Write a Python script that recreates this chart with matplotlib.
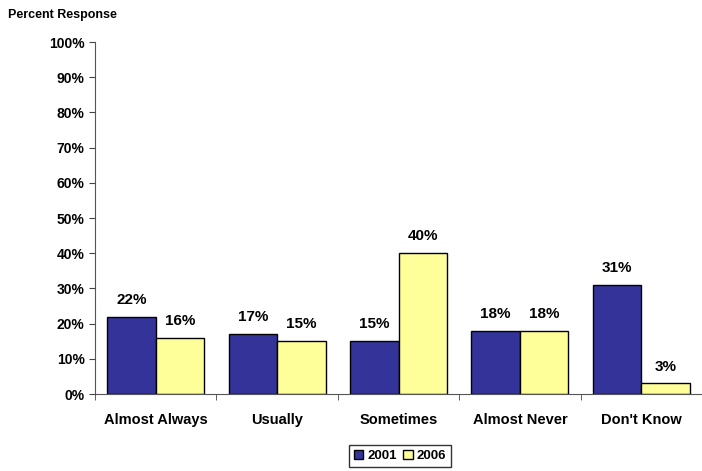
import numpy as np
import matplotlib.pyplot as plt
from matplotlib.ticker import FixedLocator, PercentFormatter

categories = ["Almost Always", "Usually", "Sometimes", "Almost Never", "Don't Know"]
series_names = ["2001", "2006"]
values_2001 = [22, 17, 15, 18, 31]
values_2006 = [16, 15, 40, 18, 3]
colors = ["#333399", "#FFFF99"]

plt.rcParams["font.family"] = ["Liberation Sans", "DejaVu Sans"]
plt.rcParams["font.weight"] = "bold"

fig = plt.figure(figsize=(7.02, 4.71), dpi=100)
ax = fig.add_axes([95 / 702, 1 - 394 / 471, 607 / 702, 352 / 471])

x = np.arange(len(categories))
width = 0.4
for i, (vals, name, color) in enumerate(zip([values_2001, values_2006], series_names, colors)):
    bars = ax.bar(x + (i - 0.5) * width, vals, width, label=name, color=color,
                  edgecolor="black", linewidth=1)
    for bar, v in zip(bars, vals):
        ax.annotate(f"{v}%", (bar.get_x() + bar.get_width() / 2, bar.get_height()),
                    xytext=(0, 7), textcoords="offset points", ha="center", va="bottom",
                    fontsize=11, fontweight="bold")

ax.set_xlim(-0.5, len(categories) - 0.5)
ax.set_ylim(0, 100)
ax.set_yticks(np.arange(0, 101, 10))
ax.yaxis.set_major_formatter(PercentFormatter(decimals=0))
ax.set_xticks(x)
ax.set_xticklabels(categories, fontsize=10.5, fontweight="bold")
ax.xaxis.set_minor_locator(FixedLocator(np.arange(-0.5, len(categories), 1.0)))
ax.tick_params(axis="x", which="major", length=0, pad=14)
ax.tick_params(axis="x", which="minor", length=4, direction="out", color="#444444")
ax.tick_params(axis="y", length=4, direction="out", labelsize=10, color="#444444")
for lbl in ax.get_yticklabels():
    lbl.set_fontweight("bold")

for side in ["top", "right"]:
    ax.spines[side].set_visible(False)
ax.spines["left"].set_color("#555555")
ax.spines["bottom"].set_color("#555555")

fig.text(8 / 702, 1 - 15 / 471, "Percent Response", fontsize=9, fontweight="bold",
         ha="left", va="center")

leg = fig.legend(loc="center", bbox_to_anchor=(400 / 702, 1 - 456 / 471), ncol=2,
                 fontsize=9.5, frameon=True, fancybox=False, edgecolor="black",
                 handlelength=0.7, handleheight=0.7, handletextpad=0.3,
                 columnspacing=0.5, borderpad=0.35, borderaxespad=0)
leg.get_frame().set_linewidth(1)
for t in leg.get_texts():
    t.set_fontweight("bold")

fig.savefig("out.png", dpi=100)
